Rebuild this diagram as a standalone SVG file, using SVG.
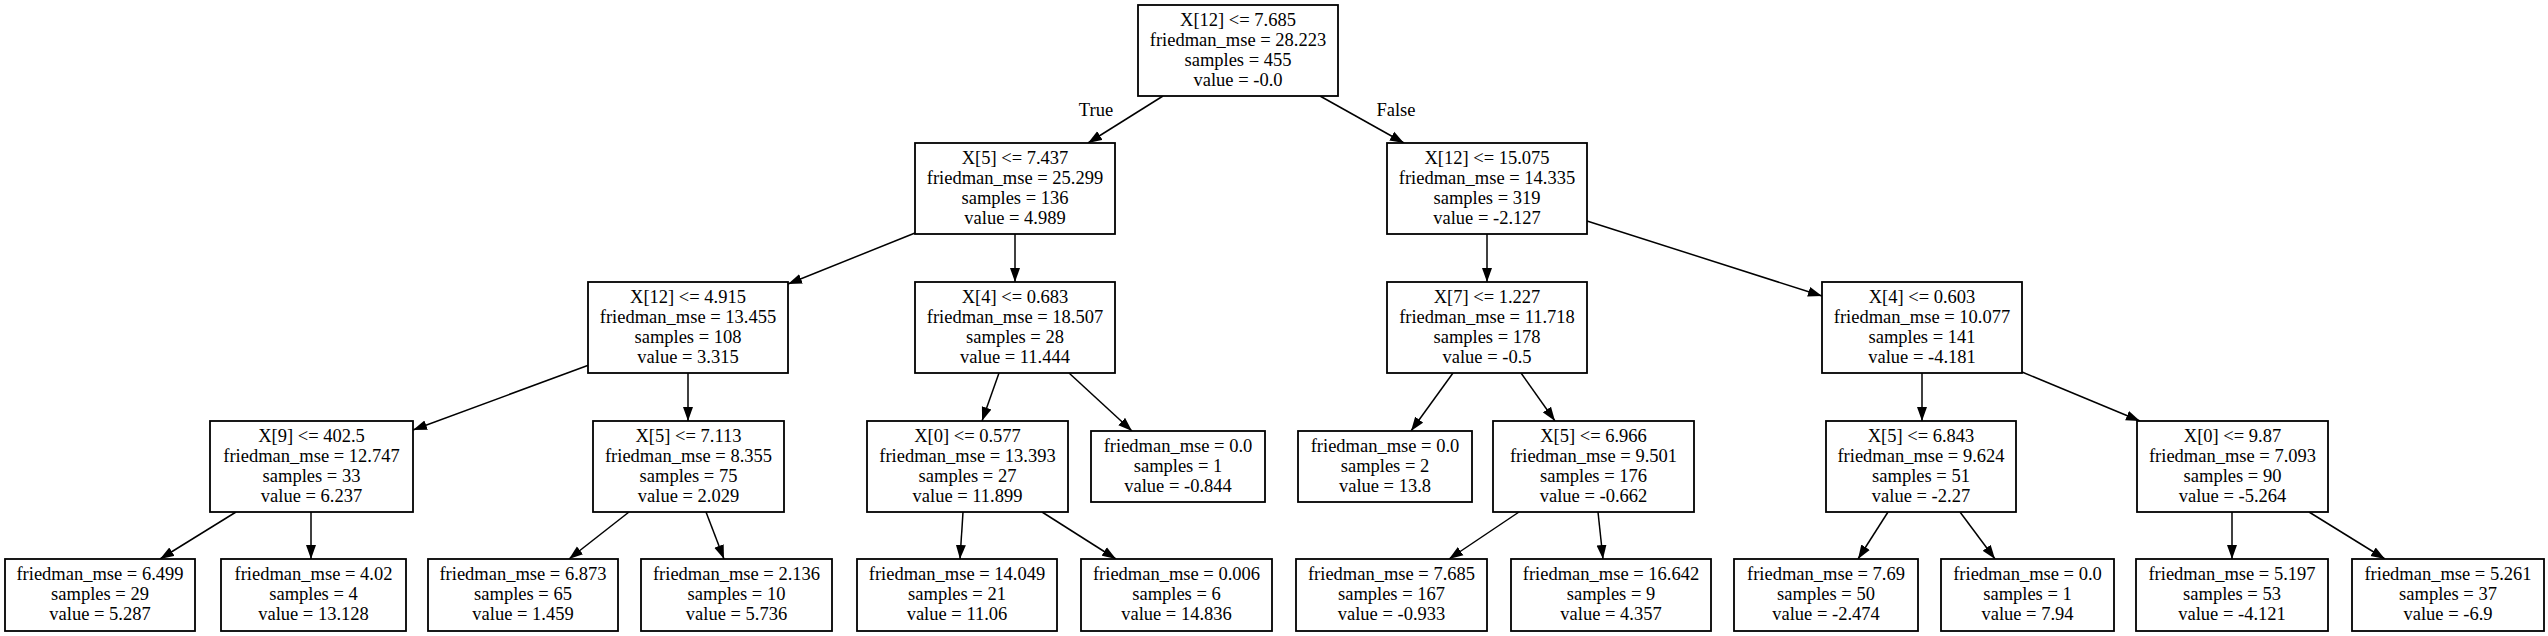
<svg xmlns="http://www.w3.org/2000/svg" width="2548" height="636" viewBox="0 0 2548 636">
<style>
.box{fill:#fff;stroke:#000;stroke-width:1.8}
text{font-family:"Liberation Serif","Times New Roman",serif;font-size:18.5px;fill:#000;text-anchor:middle}
.edge line{stroke:#000;stroke-width:1.5;marker-end:url(#ah)}
</style>
<defs>
<marker id="ah" markerUnits="userSpaceOnUse" markerWidth="15" markerHeight="11" viewBox="0 0 15 11" refX="14" refY="5.5" orient="auto">
<path d="M0,0.5 L14,5.5 L0,10.5 z" fill="#000"/>
</marker>
</defs>
<rect width="2548" height="636" fill="#fff"/>
<g id="connectors" class="edge">
<line x1="1163" y1="96" x2="1088" y2="143"/>
<line x1="1320" y1="96" x2="1404" y2="143"/>
<line x1="915" y1="233" x2="788" y2="284"/>
<line x1="1015" y1="234" x2="1015" y2="282"/>
<line x1="589" y1="365" x2="413" y2="430"/>
<line x1="688" y1="373" x2="688" y2="421"/>
<line x1="999" y1="373" x2="982" y2="421"/>
<line x1="1069" y1="373" x2="1132" y2="431"/>
<line x1="1487" y1="234" x2="1487" y2="282"/>
<line x1="1587" y1="221" x2="1822" y2="296"/>
<line x1="1453" y1="373" x2="1411" y2="431"/>
<line x1="1521" y1="373" x2="1555" y2="421"/>
<line x1="1922" y1="373" x2="1922" y2="421"/>
<line x1="2022" y1="372" x2="2140" y2="421"/>
<line x1="236" y1="512" x2="160" y2="559"/>
<line x1="311" y1="512" x2="311" y2="559"/>
<line x1="629" y1="512" x2="569" y2="559"/>
<line x1="706" y1="512" x2="724" y2="559"/>
<line x1="963" y1="512" x2="960" y2="559"/>
<line x1="1042" y1="512" x2="1116" y2="559"/>
<line x1="1519" y1="512" x2="1449" y2="559"/>
<line x1="1598" y1="512" x2="1603" y2="559"/>
<line x1="1888" y1="512" x2="1858" y2="559"/>
<line x1="1960" y1="512" x2="1995" y2="559"/>
<line x1="2232" y1="512" x2="2232" y2="559"/>
<line x1="2309" y1="512" x2="2385" y2="559"/>
<text x="1096" y="116">True</text>
<text x="1396" y="116">False</text>
</g>
<g id="n0"><rect class="box" x="1138" y="5" width="200" height="91"/><text x="1238" y="25.5">X[12] &lt;= 7.685</text><text x="1238" y="45.5">friedman_mse = 28.223</text><text x="1238" y="65.5">samples = 455</text><text x="1238" y="85.5">value = -0.0</text></g>
<g id="n1"><rect class="box" x="915" y="143" width="200" height="91"/><text x="1015" y="163.5">X[5] &lt;= 7.437</text><text x="1015" y="183.5">friedman_mse = 25.299</text><text x="1015" y="203.5">samples = 136</text><text x="1015" y="223.5">value = 4.989</text></g>
<g id="n2"><rect class="box" x="588" y="282" width="200" height="91"/><text x="688" y="302.5">X[12] &lt;= 4.915</text><text x="688" y="322.5">friedman_mse = 13.455</text><text x="688" y="342.5">samples = 108</text><text x="688" y="362.5">value = 3.315</text></g>
<g id="n3"><rect class="box" x="210" y="421" width="203" height="91"/><text x="311.5" y="441.5">X[9] &lt;= 402.5</text><text x="311.5" y="461.5">friedman_mse = 12.747</text><text x="311.5" y="481.5">samples = 33</text><text x="311.5" y="501.5">value = 6.237</text></g>
<g id="n4"><rect class="box" x="5" y="559" width="190" height="72"/><text x="100" y="580">friedman_mse = 6.499</text><text x="100" y="600">samples = 29</text><text x="100" y="620">value = 5.287</text></g>
<g id="n5"><rect class="box" x="221" y="559" width="185" height="72"/><text x="313.5" y="580">friedman_mse = 4.02</text><text x="313.5" y="600">samples = 4</text><text x="313.5" y="620">value = 13.128</text></g>
<g id="n6"><rect class="box" x="593" y="421" width="191" height="91"/><text x="688.5" y="441.5">X[5] &lt;= 7.113</text><text x="688.5" y="461.5">friedman_mse = 8.355</text><text x="688.5" y="481.5">samples = 75</text><text x="688.5" y="501.5">value = 2.029</text></g>
<g id="n7"><rect class="box" x="428" y="559" width="190" height="72"/><text x="523" y="580">friedman_mse = 6.873</text><text x="523" y="600">samples = 65</text><text x="523" y="620">value = 1.459</text></g>
<g id="n8"><rect class="box" x="641" y="559" width="191" height="72"/><text x="736.5" y="580">friedman_mse = 2.136</text><text x="736.5" y="600">samples = 10</text><text x="736.5" y="620">value = 5.736</text></g>
<g id="n9"><rect class="box" x="915" y="282" width="200" height="91"/><text x="1015" y="302.5">X[4] &lt;= 0.683</text><text x="1015" y="322.5">friedman_mse = 18.507</text><text x="1015" y="342.5">samples = 28</text><text x="1015" y="362.5">value = 11.444</text></g>
<g id="n10"><rect class="box" x="867" y="421" width="201" height="91"/><text x="967.5" y="441.5">X[0] &lt;= 0.577</text><text x="967.5" y="461.5">friedman_mse = 13.393</text><text x="967.5" y="481.5">samples = 27</text><text x="967.5" y="501.5">value = 11.899</text></g>
<g id="n11"><rect class="box" x="857" y="559" width="200" height="72"/><text x="957" y="580">friedman_mse = 14.049</text><text x="957" y="600">samples = 21</text><text x="957" y="620">value = 11.06</text></g>
<g id="n12"><rect class="box" x="1081" y="559" width="191" height="72"/><text x="1176.5" y="580">friedman_mse = 0.006</text><text x="1176.5" y="600">samples = 6</text><text x="1176.5" y="620">value = 14.836</text></g>
<g id="n13"><rect class="box" x="1091" y="431" width="174" height="71"/><text x="1178" y="451.5">friedman_mse = 0.0</text><text x="1178" y="471.5">samples = 1</text><text x="1178" y="491.5">value = -0.844</text></g>
<g id="n14"><rect class="box" x="1387" y="143" width="200" height="91"/><text x="1487" y="163.5">X[12] &lt;= 15.075</text><text x="1487" y="183.5">friedman_mse = 14.335</text><text x="1487" y="203.5">samples = 319</text><text x="1487" y="223.5">value = -2.127</text></g>
<g id="n15"><rect class="box" x="1387" y="282" width="200" height="91"/><text x="1487" y="302.5">X[7] &lt;= 1.227</text><text x="1487" y="322.5">friedman_mse = 11.718</text><text x="1487" y="342.5">samples = 178</text><text x="1487" y="362.5">value = -0.5</text></g>
<g id="n16"><rect class="box" x="1298" y="431" width="174" height="71"/><text x="1385" y="451.5">friedman_mse = 0.0</text><text x="1385" y="471.5">samples = 2</text><text x="1385" y="491.5">value = 13.8</text></g>
<g id="n17"><rect class="box" x="1493" y="421" width="201" height="91"/><text x="1593.5" y="441.5">X[5] &lt;= 6.966</text><text x="1593.5" y="461.5">friedman_mse = 9.501</text><text x="1593.5" y="481.5">samples = 176</text><text x="1593.5" y="501.5">value = -0.662</text></g>
<g id="n18"><rect class="box" x="1296" y="559" width="191" height="72"/><text x="1391.5" y="580">friedman_mse = 7.685</text><text x="1391.5" y="600">samples = 167</text><text x="1391.5" y="620">value = -0.933</text></g>
<g id="n19"><rect class="box" x="1511" y="559" width="200" height="72"/><text x="1611" y="580">friedman_mse = 16.642</text><text x="1611" y="600">samples = 9</text><text x="1611" y="620">value = 4.357</text></g>
<g id="n20"><rect class="box" x="1822" y="282" width="200" height="91"/><text x="1922" y="302.5">X[4] &lt;= 0.603</text><text x="1922" y="322.5">friedman_mse = 10.077</text><text x="1922" y="342.5">samples = 141</text><text x="1922" y="362.5">value = -4.181</text></g>
<g id="n21"><rect class="box" x="1826" y="421" width="190" height="91"/><text x="1921" y="441.5">X[5] &lt;= 6.843</text><text x="1921" y="461.5">friedman_mse = 9.624</text><text x="1921" y="481.5">samples = 51</text><text x="1921" y="501.5">value = -2.27</text></g>
<g id="n22"><rect class="box" x="1734" y="559" width="184" height="72"/><text x="1826" y="580">friedman_mse = 7.69</text><text x="1826" y="600">samples = 50</text><text x="1826" y="620">value = -2.474</text></g>
<g id="n23"><rect class="box" x="1941" y="559" width="173" height="72"/><text x="2027.5" y="580">friedman_mse = 0.0</text><text x="2027.5" y="600">samples = 1</text><text x="2027.5" y="620">value = 7.94</text></g>
<g id="n24"><rect class="box" x="2137" y="421" width="191" height="91"/><text x="2232.5" y="441.5">X[0] &lt;= 9.87</text><text x="2232.5" y="461.5">friedman_mse = 7.093</text><text x="2232.5" y="481.5">samples = 90</text><text x="2232.5" y="501.5">value = -5.264</text></g>
<g id="n25"><rect class="box" x="2136" y="559" width="192" height="72"/><text x="2232" y="580">friedman_mse = 5.197</text><text x="2232" y="600">samples = 53</text><text x="2232" y="620">value = -4.121</text></g>
<g id="n26"><rect class="box" x="2352" y="559" width="192" height="72"/><text x="2448" y="580">friedman_mse = 5.261</text><text x="2448" y="600">samples = 37</text><text x="2448" y="620">value = -6.9</text></g>
</svg>
